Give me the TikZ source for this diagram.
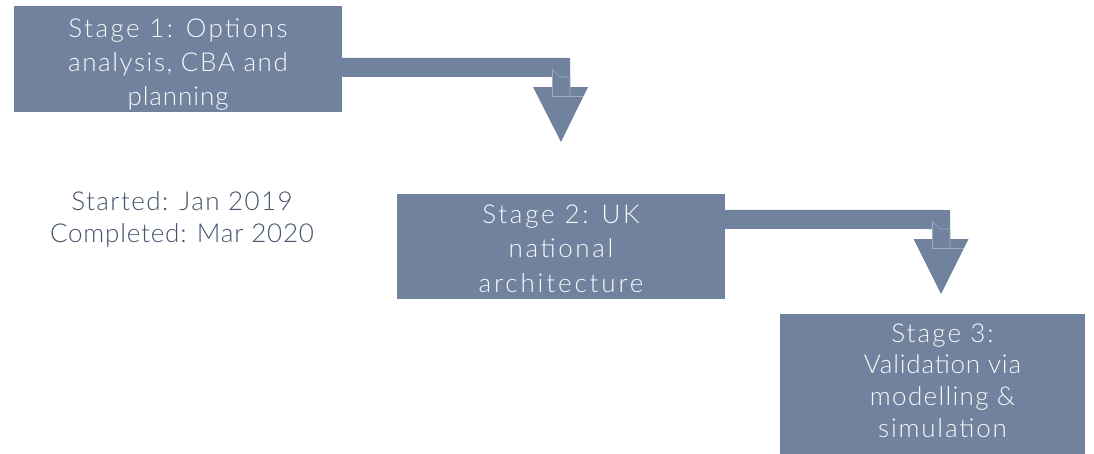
\documentclass[tikz,border=0pt]{standalone}
\usepackage{fontspec}
\setmainfont{Lato}[UprightFont={* Light}]
\usetikzlibrary{calc}
\definecolor{boxc}{RGB}{112,130,158}
\definecolor{seamc}{RGB}{160,173,193}
\definecolor{txtc}{RGB}{68,84,106}
\definecolor{boxtxt}{RGB}{248,248,248}
\newcommand\trk[2]{{\addfontfeatures{LetterSpace=#1}#2}}
\newcommand\fstrut{\rule{0pt}{30pt}}
\begin{document}
\begin{tikzpicture}[x=1pt,y=-1pt,
  stagebox/.style={fill=boxc, draw=none, inner sep=0pt, minimum width=328pt},
  btext/.style={text=boxtxt, inner sep=0pt, align=center, anchor=north},
  arrowfill/.style={fill=boxc, draw=none},
  seam/.style={draw=seamc, line width=0.6pt},
  note/.style={text=txtc, inner sep=0pt, align=center, anchor=north}]
\useasboundingbox (0,0) rectangle (1094,453);

% boxes
\node[stagebox, minimum height=106pt] (b1) at (178,59) {};
\node[stagebox, minimum height=105pt] (b2) at (561,246.5) {};
\node[stagebox, minimum width=305pt, minimum height=141pt] (b3) at (932.5,384.5) {};

% arrow 1
\coordinate (tip1) at (561,142);
\fill[arrowfill] ($(b1.north east)+(-1,52)$) -- (570,58) -- (570,87) -- (588,87) -- (tip1)
  -- (533,87) -- (552,87) -- (552,77) -- ($(b1.north east)+(-1,71)$) -- cycle;
\draw[seam] (552,69) -- (552,96) -- (583.4,96);
\draw[seam] (552,69) -- (560,77) -- (570,77) -- (570,96);

% arrow 2
\coordinate (tip2) at (941,294);
\fill[arrowfill] ($(b2.north east)+(-1,16)$) -- (950,210) -- (950,239) -- (968.5,239) -- (tip2)
  -- (913.5,239) -- (932,239) -- (932,229) -- ($(b2.north east)+(-1,35)$) -- cycle;
\draw[seam] (932,221) -- (932,248) -- (963.5,248);
\draw[seam] (932,221) -- (940,229) -- (950,229) -- (950,248);

% texts
\node[btext, font=\fontsize{26}{34}\selectfont] (t1) at ($(b1.center)+(0,-52)$)
  {\fstrut\trk{9.5}{Stage 1: Options}\\\trk{6}{analysis, CBA and}\\\trk{3.5}{planning}};
\node[btext, font=\fontsize{26}{34.5}\selectfont] (t2) at ($(b2.center)+(0,-53.5)$)
  {\fstrut\trk{10.5}{Stage 2: UK}\\\trk{10}{national}\\\trk{11}{architecture}};
\node[btext, font=\fontsize{26}{31.7}\selectfont] (t3) at ($(b3.north)+(10,-2)$)
  {\fstrut\trk{8}{Stage 3:}\\\trk{3}{Validation via}\\\trk{5}{modelling \&}\\\trk{7}{simulation}};
\node[note, font=\fontsize{26}{32}\selectfont] (dates) at (182,180)
  {\fstrut\trk{5.5}{Started: Jan 2019}\\\trk{3}{Completed: Mar 2020}};
\end{tikzpicture}
\end{document}
